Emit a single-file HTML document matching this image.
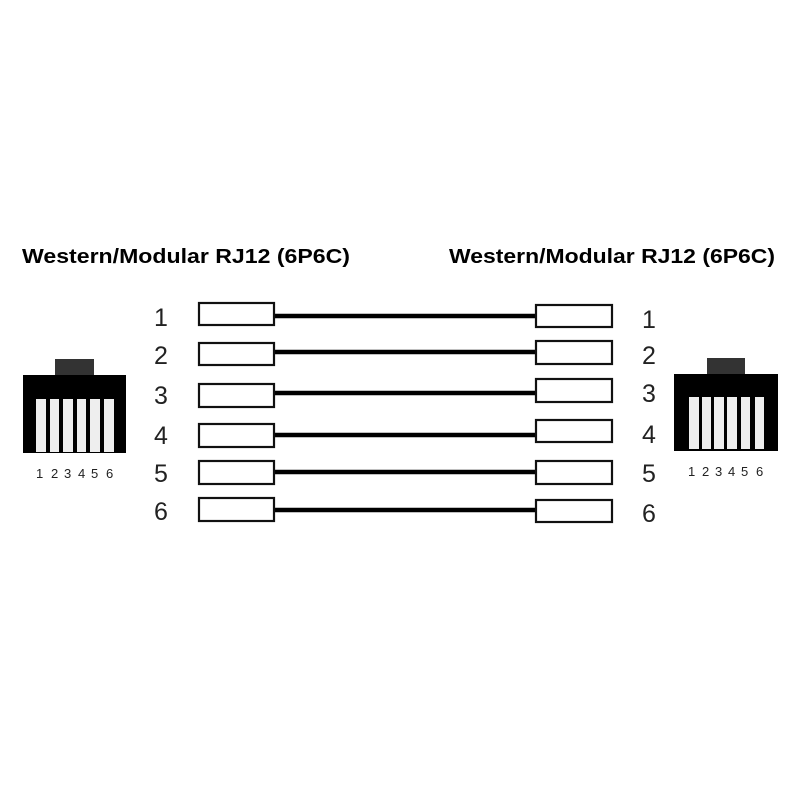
<!DOCTYPE html>
<html><head><meta charset="utf-8"><style>html,body{margin:0;padding:0;background:#fff}</style></head>
<body>
<svg width="800" height="800" xmlns="http://www.w3.org/2000/svg" font-family="Liberation Sans, sans-serif">
<rect width="800" height="800" fill="#fff"/>
<text x="22" y="263" font-size="20" font-weight="bold" textLength="328" lengthAdjust="spacingAndGlyphs">Western/Modular RJ12 (6P6C)</text>
<text x="449" y="263" font-size="20" font-weight="bold" textLength="326" lengthAdjust="spacingAndGlyphs">Western/Modular RJ12 (6P6C)</text>

<rect x="55" y="359" width="39" height="17" fill="#333"/>
<rect x="23" y="375" width="103" height="78" fill="#000"/>
<g fill="#eee">
<rect x="36" y="399" width="10" height="53"/><rect x="50" y="399" width="9" height="53"/>
<rect x="63" y="399" width="10" height="53"/><rect x="77" y="399" width="9" height="53"/>
<rect x="90" y="399" width="10" height="53"/><rect x="104" y="399" width="10" height="53"/>
</g>
<g font-size="13" fill="#222">
<text x="36" y="478">1</text><text x="51" y="478">2</text><text x="64" y="478">3</text><text x="78" y="478">4</text><text x="91" y="478">5</text><text x="106" y="478">6</text>
</g>

<rect x="707" y="358" width="38" height="17" fill="#333"/>
<rect x="674" y="374" width="104" height="77" fill="#000"/>
<g fill="#eee">
<rect x="689" y="397" width="10" height="52"/><rect x="702" y="397" width="9" height="52"/>
<rect x="714" y="397" width="10" height="52"/><rect x="727" y="397" width="10" height="52"/>
<rect x="741" y="397" width="9" height="52"/><rect x="755" y="397" width="9" height="52"/>
</g>
<g font-size="13" fill="#222">
<text x="688" y="476">1</text><text x="702" y="476">2</text><text x="715" y="476">3</text><text x="728" y="476">4</text><text x="741" y="476">5</text><text x="756" y="476">6</text>
</g>

<g stroke="#000" stroke-width="4.5">
<line x1="274" y1="316" x2="536" y2="316"/>
<line x1="274" y1="352" x2="536" y2="352"/>
<line x1="274" y1="393" x2="536" y2="393"/>
<line x1="274" y1="435" x2="536" y2="435"/>
<line x1="274" y1="472" x2="536" y2="472"/>
<line x1="274" y1="510" x2="536" y2="510"/>
</g>

<g fill="#fff" stroke="#111" stroke-width="2.2">
<rect x="199" y="303" width="75" height="22"/>
<rect x="199" y="343" width="75" height="22"/>
<rect x="199" y="384" width="75" height="23"/>
<rect x="199" y="424" width="75" height="23"/>
<rect x="199" y="461" width="75" height="23"/>
<rect x="199" y="498" width="75" height="23"/>
<rect x="536" y="305" width="76" height="22"/>
<rect x="536" y="341" width="76" height="23"/>
<rect x="536" y="379" width="76" height="23"/>
<rect x="536" y="420" width="76" height="22"/>
<rect x="536" y="461" width="76" height="23"/>
<rect x="536" y="500" width="76" height="22"/>
</g>

<g font-size="25" fill="#222">
<text x="154" y="326">1</text><text x="154" y="364">2</text><text x="154" y="404">3</text>
<text x="154" y="444">4</text><text x="154" y="482">5</text><text x="154" y="520">6</text>
<text x="642" y="328">1</text><text x="642" y="364">2</text><text x="642" y="402">3</text>
<text x="642" y="443">4</text><text x="642" y="482">5</text><text x="642" y="522">6</text>
</g>
</svg>
</body></html>
